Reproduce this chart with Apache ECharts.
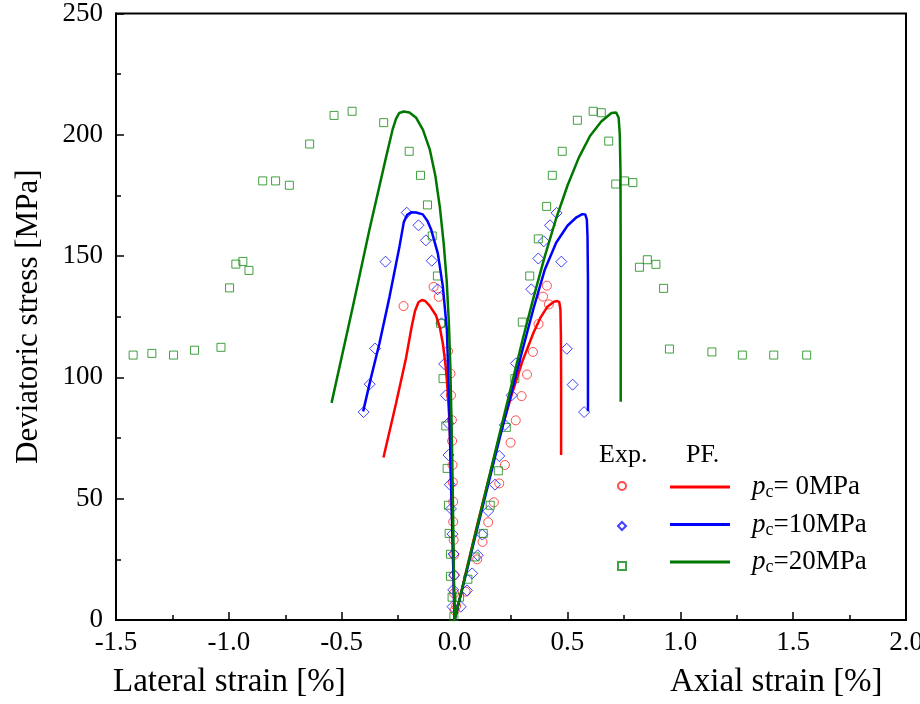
<!DOCTYPE html>
<html>
<head>
<meta charset="utf-8">
<script src="https://cdn.jsdelivr.net/npm/echarts@6/dist/echarts.min.js"></script>
<style>html,body{margin:0;padding:0;background:#fff}#c{width:920px;height:704px}</style>
</head>
<body>
<div id="c"></div>
<script>
// Experimental data [strain %, deviatoric stress MPa]; negative strain = lateral
var expPc0 = [[-0.226,129.4],[-0.093,137.3],[-0.070,133.2],[-0.029,110.8],[-0.018,101.6],[-0.016,92.6],[-0.012,82.4],[-0.011,73.8],[-0.009,63.9],[-0.008,56.8],[-0.006,48.8],[-0.006,40.5],[-0.004,33.0],[-0.002,26.8],[-0.002,18.5],[-0.002,11],[0.0,4],
  [0.007,5.8],[0.049,11.7],[0.100,25.0],[0.124,32.2],[0.149,40.3],[0.174,48.5],[0.198,56.3],[0.223,63.9],[0.248,73.1],[0.271,82.3],[0.297,92.3],[0.321,101.2],[0.347,110.5],[0.372,122.0],[0.392,133.3],[0.409,137.8],[0.418,130.1]];
var expPc10 = [[-0.403,85.7],[-0.376,97.2],[-0.352,111.9],[-0.306,147.7],[-0.212,167.9],[-0.160,162.7],[-0.127,156.5],[-0.101,148.1],[-0.075,136.3],[-0.058,122.3],[-0.046,105.5],[-0.039,92.6],[-0.028,81.1],[-0.027,68.0],[-0.021,55.8],[-0.016,45.8],[-0.009,35.4],[-0.004,27.2],[-0.002,18.5],[-0.006,12.4],[-0.009,5.5],
  [0.027,5.5],[0.055,12.2],[0.078,19.2],[0.103,26.7],[0.123,35.2],[0.149,44.9],[0.179,55.8],[0.198,67.6],[0.223,80.4],[0.253,92.6],[0.272,105.8],[0.340,136.3],[0.371,149.0],[0.395,156.1],[0.423,162.7],[0.452,167.8],[0.473,147.7],[0.497,111.8],[0.523,97.0],[0.574,85.7]];
var expPc20 = [[-1.424,109.2],[-1.341,109.9],[-1.245,109.2],[-1.152,111.2],[-1.035,112.4],[-0.997,136.9],[-0.969,146.7],[-0.938,147.8],[-0.911,144.1],[-0.850,181.0],[-0.793,181.0],[-0.732,179.2],[-0.642,196.2],[-0.534,208.0],[-0.454,209.7],[-0.314,205.0],[-0.201,193.2],[-0.151,183.3],[-0.120,171.1],[-0.099,158.3],[-0.076,141.8],[-0.062,122.3],[-0.051,99.5],[-0.039,80.0],[-0.033,62.5],[-0.027,47.3],[-0.024,35.7],[-0.018,27.1],[-0.018,18.0],[-0.011,9.4],[-0.003,1.4],
  [0.022,9.4],[0.059,16.8],[0.091,26.0],[0.127,35.7],[0.158,47.3],[0.194,61.5],[0.229,79.4],[0.267,99.5],[0.300,122.8],[0.333,141.8],[0.371,157.1],[0.408,170.5],[0.433,183.3],[0.477,193.2],[0.544,206.0],[0.614,209.7],[0.650,209.1],[0.683,197.4],[0.714,179.7],[0.753,181.0],[0.790,180.3],[0.819,145.4],[0.854,148.5],[0.892,146.6],[0.926,136.7],[0.952,111.7],[1.140,110.5],[1.275,109.2],[1.414,109.2],[1.560,109.2]];

// Phase-field simulation curves
var pfPc0 = [[-0.315,67],[-0.26,89],[-0.215,108],[-0.19,121],[-0.175,127.5],[-0.16,131],[-0.145,131.9],[-0.13,131.5],[-0.11,129.5],[-0.082,125.5],[-0.065,120.5],[-0.052,114],[-0.04,105],[-0.033,97.6],[-0.022,81],[-0.015,56],[-0.006,27],[0,0],[0.1,39],[0.2,76],[0.25,92],[0.3,106.5],[0.35,118.5],[0.38,124.5],[0.41,129],[0.44,131.2],[0.455,131.5],[0.464,131],[0.469,128],[0.471,118],[0.472,100],[0.472,68]];
var pfPc10 = [[-0.405,86],[-0.37,100],[-0.333,114],[-0.288,133.3],[-0.244,154],[-0.225,164],[-0.21,167],[-0.192,168.1],[-0.17,168],[-0.141,167.2],[-0.12,164.5],[-0.104,161],[-0.074,151],[-0.052,137.5],[-0.034,119.5],[-0.024,90],[-0.015,54],[-0.006,22],[0,0],[0.1,37.5],[0.2,75],[0.3,111],[0.35,128.5],[0.4,144.5],[0.45,155.5],[0.5,162.5],[0.54,166],[0.566,167.3],[0.579,167.2],[0.586,165],[0.589,158],[0.591,140],[0.591,86]];
var pfPc20 = [[-0.545,89.5],[-0.451,129],[-0.377,161],[-0.303,191],[-0.275,202],[-0.26,206.5],[-0.245,209],[-0.225,209.6],[-0.2,209.2],[-0.17,207],[-0.14,202],[-0.11,194],[-0.085,183],[-0.065,170],[-0.048,155],[-0.035,140],[-0.025,122],[-0.019,105],[-0.013,80],[-0.008,53],[-0.004,25],[0,0],[0.1,38.5],[0.2,77],[0.3,115],[0.35,133],[0.4,150],[0.45,165.5],[0.5,179],[0.55,190.5],[0.6,199.5],[0.65,205.5],[0.695,209],[0.716,209.2],[0.727,207],[0.732,200],[0.735,185],[0.736,150],[0.736,90]];

var legendLabels = {'PF0': '= 0MPa', 'PF10': '=10MPa', 'PF20': '=20MPa'};
var FONT = 'Liberation Serif';

var chart = echarts.init(document.getElementById('c'));
function scatter(name, data, symbol, size, color) {
  return {name: name, type: 'scatter', data: data, symbol: symbol, symbolSize: size,
    itemStyle: {color: 'rgba(0,0,0,0)', borderColor: color, borderWidth: 1}, z: 2, silent: true};
}
function line(name, data, color) {
  return {name: name, type: 'line', data: data, showSymbol: false, symbol: 'none',
    lineStyle: {color: color, width: 2.5}, itemStyle: {color: color}, z: 3, silent: true, animation: false};
}
chart.setOption({
  animation: false,
  grid: {left: 116, right: 14, top: 13.5, bottom: 84, show: true, borderColor: '#000', borderWidth: 2,
    backgroundColor: 'transparent', outerBoundsMode: 'none', containLabel: false},
  xAxis: {type: 'value', min: -1.5, max: 2.0, interval: 0.5,
    axisLine: {onZero: false, lineStyle: {color: '#000', width: 2}},
    axisTick: {inside: true, length: 8, lineStyle: {color: '#000', width: 1.5}},
    minorTick: {show: true, splitNumber: 2, length: 5, lineStyle: {color: '#000', width: 1.5}},
    splitLine: {show: false},
    axisLabel: {color: '#000', fontFamily: FONT, fontSize: 27, margin: 9, formatter: function (v) { return v.toFixed(1); }}
  },
  yAxis: {type: 'value', min: 0, max: 250, interval: 50,
    name: 'Deviatoric stress [MPa]', nameLocation: 'middle', nameGap: 72,
    nameTextStyle: {color: '#000', fontFamily: FONT, fontSize: 31},
    axisLine: {onZero: false, lineStyle: {color: '#000', width: 2}},
    axisTick: {inside: true, length: 8, lineStyle: {color: '#000', width: 1.5}},
    minorTick: {show: true, splitNumber: 2, length: 5, lineStyle: {color: '#000', width: 1.5}},
    splitLine: {show: false},
    axisLabel: {color: '#000', fontFamily: FONT, fontSize: 27, margin: 13}
  },
  legend: [
    {data: [{name: 'Exp0'}, {name: 'Exp10'}, {name: 'Exp20'}], orient: 'vertical', left: 612, top: 476, itemWidth: 8, itemHeight: 8,
      itemGap: 30, formatter: function () { return ''; }, selectedMode: false,
      textStyle: {fontSize: 1, lineHeight: 1}},
    {data: ['PF0', 'PF10', 'PF20'], orient: 'vertical', left: 665, top: 468, itemWidth: 60, itemHeight: 3,
      icon: 'rect', itemGap: 9, selectedMode: false,
      formatter: function (n) { return '{p|p}{c|c}{t|' + legendLabels[n] + '}'; },
      textStyle: {color: '#000', fontFamily: FONT, fontSize: 27, lineHeight: 28,
        rich: {
          p: {fontStyle: 'italic', fontFamily: FONT, fontSize: 27, color: '#000', padding: [0, 0, 0, 17]},
          c: {fontFamily: FONT, fontSize: 18, color: '#000', padding: [11, 0, 0, 0]},
          t: {fontFamily: FONT, fontSize: 27, color: '#000'}
        }}
    }
  ],
  graphic: [
    {type: 'text', left: 599, top: 442, style: {text: 'Exp.', fontFamily: FONT, fontSize: 26, fill: '#000'}},
    {type: 'text', left: 686, top: 442, style: {text: 'PF.', fontFamily: FONT, fontSize: 26, fill: '#000'}},
    {type: 'text', left: 113, top: 666, style: {text: 'Lateral strain [%]', fontFamily: FONT, fontSize: 33, fill: '#000'}},
    {type: 'text', left: 670, top: 666, style: {text: 'Axial strain [%]', fontFamily: FONT, fontSize: 33, fill: '#000'}}
  ],
  series: [
    scatter('Exp0', expPc0, 'circle', 9, '#ff2020'),
    scatter('Exp10', expPc10, 'diamond', 11, '#1010ff'),
    scatter('Exp20', expPc20, 'rect', 8, '#118811'),
    line('PF0', pfPc0, '#ff0000'),
    line('PF10', pfPc10, '#0000ff'),
    line('PF20', pfPc20, '#007700')
  ]
});
</script>
</body>
</html>
